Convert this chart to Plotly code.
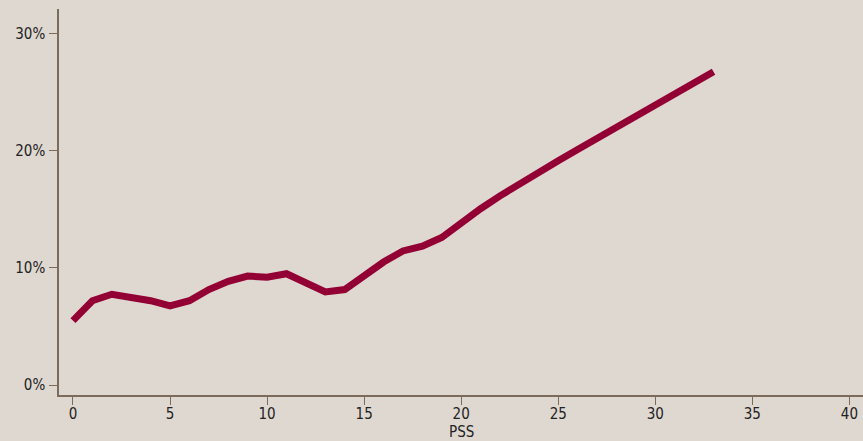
import plotly.graph_objects as go

pss = list(range(0, 34))
share_pct = [5.5, 7.2, 7.75, 7.55, 7.2, 6.75, 7.2, 8.15, 8.85, 9.3, 9.2, 9.5, 8.75, 7.95, 8.15,
             9.4, 10.5, 11.45, 11.85, 12.6, 13.85, 15.05, 16.15, 17.2, 18.2, 19.15, 20.1,
             21.05, 22.05, 23.05, 24.0, 25.0, 25.9, 26.75]

x_ticks = [0, 5, 10, 15, 20, 25, 30, 35, 40]
y_ticks = [0, 10, 20, 30]
y_tick_labels = ["0%", "10%", "20%", "30%"]
x_title = "PSS"

bg = "#dfd8d1"
axis_col = "#7b6b5b"
font_fam = "DejaVu Sans Condensed, DejaVu Sans, sans-serif"

fig = go.Figure()
fig.add_trace(go.Scatter(
    x=pss, y=share_pct, mode="lines",
    line=dict(color="#930034", width=7),
    hoverinfo="skip", showlegend=False,
))

plot_h = 441 - 9 - 46

fig.update_layout(
    width=863, height=441,
    paper_bgcolor=bg, plot_bgcolor=bg,
    margin=dict(l=59, r=0, t=9, b=46, autoexpand=False),
    font=dict(family=font_fam, size=15, color="#222222"),
    xaxis=dict(
        range=[-0.72, 40.7], tickvals=x_ticks, showgrid=False, zeroline=False,
        showline=True, linecolor=axis_col, linewidth=1.5, automargin=False,
        ticks="outside", ticklen=8, tickcolor=axis_col, tickwidth=1,
        tickfont=dict(size=15), ticklabelstandoff=-4,
    ),
    yaxis=dict(
        range=[-0.85, 32.1], tickvals=y_ticks, ticktext=y_tick_labels,
        showgrid=False, zeroline=False, automargin=False,
        showline=True, linecolor=axis_col, linewidth=1.5,
        ticks="outside", ticklen=8, tickcolor=axis_col, tickwidth=1,
        tickfont=dict(size=15), ticklabelstandoff=1,
    ),
    annotations=[dict(
        text=x_title, xref="x", x=20, yref="paper", y=-(432 - 395) / plot_h,
        xanchor="center", yanchor="middle", showarrow=False,
        font=dict(size=15, family=font_fam, color="#222222"),
    )],
)

fig.write_html(
    "out.html",
    config={"displayModeBar": False},
    post_script="document.body.style.margin='0';document.body.style.overflow='hidden';",
)
